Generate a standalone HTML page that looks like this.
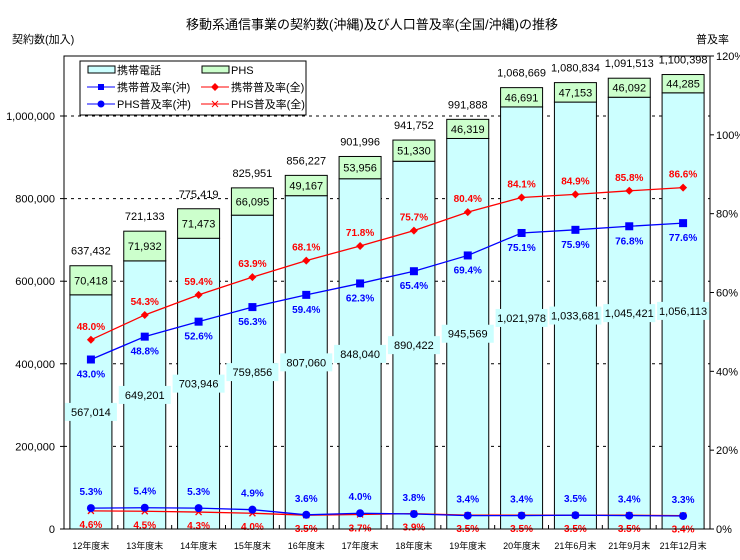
<!DOCTYPE html>
<html><head><meta charset="utf-8"><style>
body{margin:0;background:#fff}
svg{display:block;font-family:"Liberation Sans","Noto Sans CJK JP",sans-serif}
</style></head><body>
<svg id="c" width="740" height="560" viewBox="0 0 740 560">
<text x="372" y="29" font-size="13" text-anchor="middle">移動系通信事業の契約数(沖縄)及び人口普及率(全国/沖縄)の推移</text>
<text x="12" y="43" font-size="11">契約数(加入)</text>
<text x="696" y="43" font-size="11">普及率</text>
<g id="grid"></g><g id="bars"></g><g id="lines"></g><g id="axes"></g>
<g>
<rect x="80" y="61" width="226" height="54" fill="#fff" stroke="#000"/>
<rect x="88" y="66" width="27" height="7" fill="#ccffff" stroke="#000"/><text x="117" y="74" font-size="11">携帯電話</text>
<rect x="202" y="66" width="27" height="7" fill="#ccffcc" stroke="#000"/><text x="231" y="74" font-size="11">PHS</text>
<line x1="87" y1="87" x2="115" y2="87" stroke="#00f"/><rect x="98" y="84" width="6" height="6" fill="#00f"/><text x="117" y="91" font-size="11">携帯普及率(沖)</text>
<line x1="201" y1="87" x2="229" y2="87" stroke="#f00"/><path d="M215 83 L219 87 L215 91 L211 87Z" fill="#f00"/><text x="231" y="91" font-size="11">携帯普及率(全)</text>
<line x1="87" y1="104" x2="115" y2="104" stroke="#00f"/><circle cx="101" cy="104" r="3.5" fill="#00f"/><text x="117" y="108" font-size="11">PHS普及率(沖)</text>
<line x1="201" y1="104" x2="229" y2="104" stroke="#f00"/><path d="M212 101 L218 107 M218 101 L212 107" stroke="#f00"/><text x="231" y="108" font-size="11">PHS普及率(全)</text>
</g>
</svg>
<script>
const categories=["12年度末","13年度末","14年度末","15年度末","16年度末","17年度末","18年度末","19年度末","20年度末","21年6月末","21年9月末","21年12月末"];
const mobile=[567014,649201,703946,759856,807060,848040,890422,945569,1021978,1033681,1045421,1056113];
const phs=[70418,71932,71473,66095,49167,53956,51330,46319,46691,47153,46092,44285];
const mobileOki=[43.0,48.8,52.6,56.3,59.4,62.3,65.4,69.4,75.1,75.9,76.8,77.6];
const mobileAll=[48.0,54.3,59.4,63.9,68.1,71.8,75.7,80.4,84.1,84.9,85.8,86.6];
const phsOki=[5.3,5.4,5.3,4.9,3.6,4.0,3.8,3.4,3.4,3.5,3.4,3.3];
const phsAll=[4.6,4.5,4.3,4.0,3.5,3.7,3.9,3.5,3.5,3.5,3.5,3.4];
const leftTicks=[0,200000,400000,600000,800000,1000000];
const rightTicks=[0,20,40,60,80,100,120];
const NS="http://www.w3.org/2000/svg";
const L=64,R=710,T=56,B=529;
const cw=(R-L)/categories.length;
const xc=i=>L+cw*(i+0.5);
const yL=v=>B-v*413/1000000;
const yR=v=>B-v*(B-T)/120;
const fmt=n=>n.toLocaleString("en-US");
function mk(tag,at,parent,txt){const e=document.createElementNS(NS,tag);for(const k in at)e.setAttribute(k,at[k]);if(txt!==undefined)e.textContent=txt;document.getElementById(parent).appendChild(e);return e;}
// grid & left ticks
leftTicks.forEach(v=>{
  if(v>0){const g=mk("line",{x1:L,x2:R,y1:yL(v),y2:yL(v),stroke:"#000","stroke-dasharray":"3,4"},"grid");
  
  }
  mk("line",{x1:L-4,x2:L,y1:yL(v),y2:yL(v),stroke:"#000"},"axes");
  const t=mk("text",{x:L-9,y:yL(v)+4,"font-size":"11","text-anchor":"end"},"axes",fmt(v));
  
  
});
rightTicks.forEach(v=>{
  mk("line",{x1:R,x2:R+4,y1:yR(v),y2:yR(v),stroke:"#000"},"axes");
  const t=mk("text",{x:R+6,y:yR(v)+4,"font-size":"11"},"axes",v+"%");
  
  
});
mk("rect",{x:L,y:T,width:R-L,height:B-T,fill:"none",stroke:"#000"},"axes");
const bw=42;
categories.forEach((c,i)=>{
  const x=xc(i)-bw/2,tot=mobile[i]+phs[i];
  const b1=mk("rect",{x:x,y:yL(mobile[i]),width:bw,height:B-yL(mobile[i]),fill:"#ccffff",stroke:"#000"},"bars");
  
  
  const b2=mk("rect",{x:x,y:yL(tot),width:bw,height:yL(mobile[i])-yL(tot),fill:"#ccffcc",stroke:"#000"},"bars");
  
  
  mk("text",{x:xc(i),y:(yL(mobile[i])+yL(tot))/2+4,"font-size":"11","text-anchor":"middle"},"bars",fmt(phs[i]));
  mk("text",{x:xc(i),y:yL(tot)-11,"font-size":"11","text-anchor":"middle"},"bars",fmt(tot));
  const my=yL(mobile[i]/2);
  mk("rect",{x:xc(i)-26,y:my-9,width:52,height:18,fill:"#ccffff"},"bars");
  mk("text",{x:xc(i),y:my+4,"font-size":"11","text-anchor":"middle"},"bars",fmt(mobile[i]));
  const xl=mk("text",{x:xc(i),y:549,"font-size":"9","text-anchor":"middle"},"axes",c);
  
  
  if(i>0) mk("line",{x1:L+cw*i,x2:L+cw*i,y1:B,y2:B-4,stroke:"#000"},"axes");
});
function series(arr,color,name,marker,dy){
  const pl=mk("polyline",{points:arr.map((v,i)=>xc(i)+","+yR(v)).join(" "),fill:"none",stroke:color,"stroke-width":"1.3"},"lines");
  
  
  arr.forEach((v,i)=>{
    const x=xc(i),y=yR(v);let m;
    if(marker==="sq")m=mk("rect",{x:x-4,y:y-4,width:8,height:8,fill:color},"lines");
    else if(marker==="di")m=mk("path",{d:`M${x} ${y-4}L${x+4} ${y}L${x} ${y+4}L${x-4} ${y}Z`,fill:color},"lines");
    else if(marker==="ci")m=mk("circle",{cx:x,cy:y,r:4,fill:color},"lines");
    else m=mk("path",{d:`M${x-3} ${y-3}L${x+3} ${y+3}M${x+3} ${y-3}L${x-3} ${y+3}`,stroke:color,"stroke-width":"1.3"},"lines");
    
    
    mk("text",{x:x,y:y+dy,"font-size":"10","font-weight":"bold","text-anchor":"middle",fill:color},"lines",v.toFixed(1)+"%");
  });
}
series(mobileAll,"#f00","mobile-national","di",-10);
series(mobileOki,"#00f","mobile-okinawa","sq",18);
series(phsAll,"#f00","phs-national","x",17);
series(phsOki,"#00f","phs-okinawa","ci",-13);
</script>
</body></html>
